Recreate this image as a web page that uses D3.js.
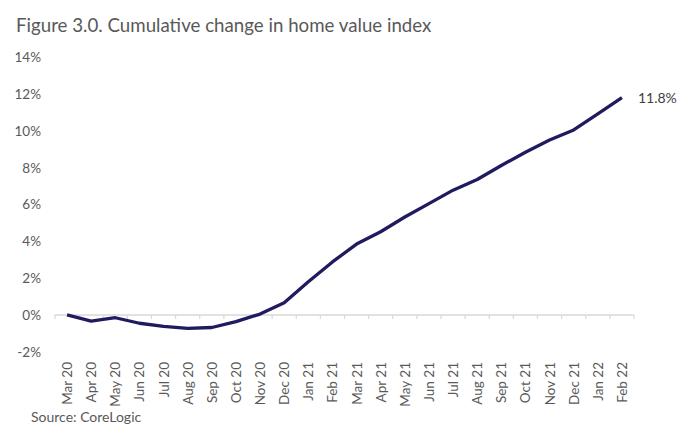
<!DOCTYPE html>
<html>
<head>
<meta charset="utf-8">
<script src="https://cdn.jsdelivr.net/npm/d3@7"></script>
<style>
  html, body { margin: 0; padding: 0; background: #fff; }
  svg { display: block; }
  text { font-family: "Source Sans Pro", Lato, "Open Sans", sans-serif; }
</style>
</head>
<body>
<svg id="chart" width="692" height="427"></svg>
<script>
const months = ["Mar 20","Apr 20","May 20","Jun 20","Jul 20","Aug 20","Sep 20","Oct 20","Nov 20","Dec 20",
  "Jan 21","Feb 21","Mar 21","Apr 21","May 21","Jun 21","Jul 21","Aug 21","Sep 21","Oct 21","Nov 21","Dec 21",
  "Jan 22","Feb 22"];
const values = [0, -0.33, -0.15, -0.45, -0.62, -0.73, -0.68, -0.36, 0.05, 0.66,
  1.8, 2.88, 3.85, 4.52, 5.32, 6.05, 6.78, 7.36, 8.12, 8.84, 9.5, 10.05,
  10.92, 11.8];
const yTicks = [-2, 0, 2, 4, 6, 8, 10, 12, 14];
const endLabel = "11.8%";
const title = "Figure 3.0. Cumulative change in home value index";
const source = "Source: CoreLogic";

const svg = d3.select("#chart");
const x = d3.scaleBand().domain(months).range([55, 634]);
const y = d3.scaleLinear().domain([-2, 14]).range([351.8, 57.2]);

svg.append("text").attr("x", 16).attr("y", 32)
  .attr("font-size", 18.7).attr("fill", "#595959").text(title);

// Y axis labels
const ya = svg.append("g").attr("transform", "translate(41,0)")
  .call(d3.axisLeft(y).tickValues(yTicks).tickSize(0).tickPadding(0).tickFormat(d => d + "%"));
ya.select(".domain").remove();
ya.selectAll("text").attr("font-size", 13.5).attr("fill", "#595959")
  .style("font-family", '"Source Sans Pro", Lato, "Open Sans", sans-serif');

// X axis line at 0 with ticks at band boundaries
const xa = svg.append("g").attr("transform", `translate(0,${y(0)})`);
xa.append("line").attr("x1", x.range()[0]).attr("x2", x.range()[1])
  .attr("stroke", "#d9d9d9").attr("stroke-width", 1.5);
const bounds = months.map(m => x(m)).concat([x.range()[1]]);
xa.selectAll("line.tk").data(bounds).join("line").attr("class", "tk")
  .attr("x1", d => d).attr("x2", d => d).attr("y1", 0).attr("y2", 4)
  .attr("stroke", "#d9d9d9").attr("stroke-width", 1.2);

// X labels rotated
svg.append("g").selectAll("text").data(months).join("text")
  .attr("transform", d => `translate(${x(d) + x.bandwidth() / 2 + 5},362) rotate(-90)`)
  .attr("text-anchor", "end")
  .attr("font-size", 13.5).attr("fill", "#595959")
  .text(d => d);

// Line
const line = d3.line().x((d, i) => x(months[i]) + x.bandwidth() / 2).y(d => y(d));
svg.append("path").datum(values).attr("d", line)
  .attr("fill", "none").attr("stroke", "#201b5e").attr("stroke-width", 3.3)
  .attr("stroke-linejoin", "round");

// End label
const last = values.length - 1;
svg.append("text")
  .attr("x", x(months[last]) + x.bandwidth() / 2 + 16)
  .attr("y", y(values[last]) + 5)
  .attr("font-size", 14).attr("fill", "#404040").text(endLabel);

svg.append("text").attr("x", 31).attr("y", 422)
  .attr("font-size", 14).attr("fill", "#595959").text(source);
</script>
</body>
</html>
